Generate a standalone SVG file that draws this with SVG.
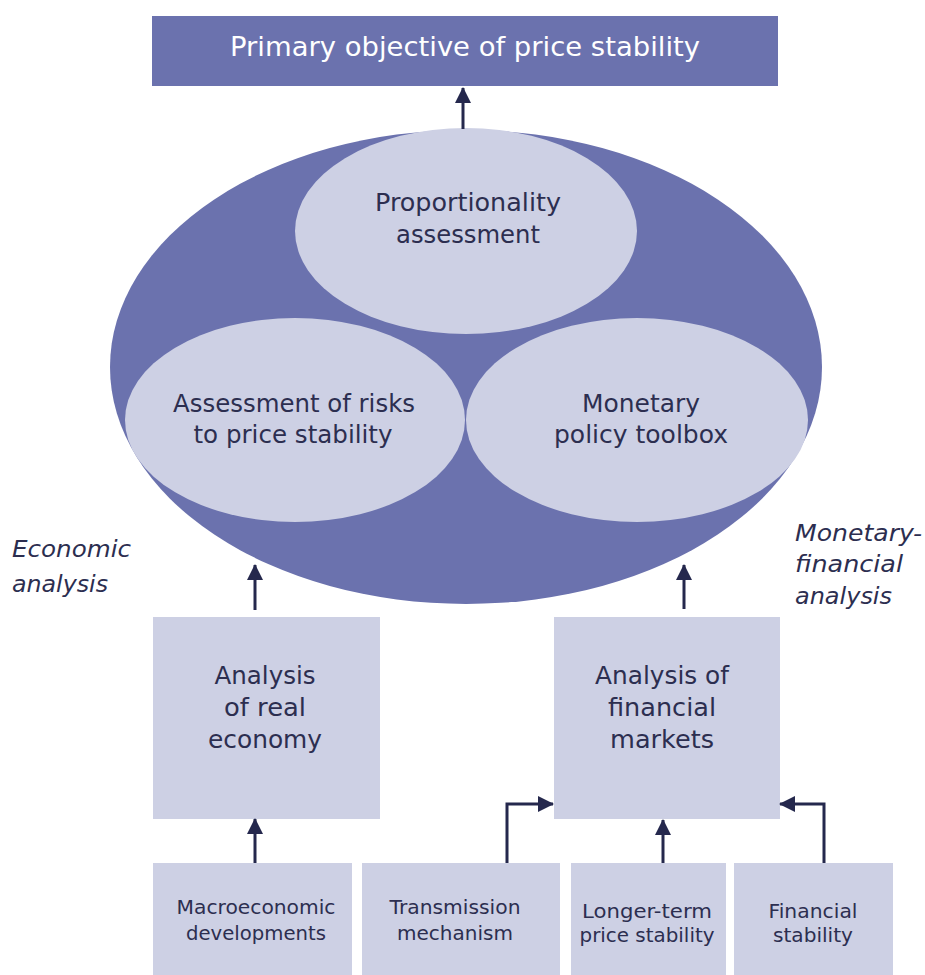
<svg xmlns="http://www.w3.org/2000/svg" width="925" height="975" viewBox="0 0 925 975">
  <style>
    .dark { fill: #6b72ae; }
    .light { fill: #cdd0e4; }
    .t { font-family: "DejaVu Sans", "Liberation Sans", sans-serif; fill: #2c2e50; text-anchor: middle; }
    .big { font-size: 24px; }
    .small { font-size: 19px; }
    .side { font-family: "DejaVu Sans", "Liberation Sans", sans-serif; fill: #2c2e50; font-size: 23px; font-style: italic; }
    .title { font-family: "DejaVu Sans", "Liberation Sans", sans-serif; fill: #ffffff; font-size: 27px; text-anchor: middle; }
    .conn { fill: none; stroke: #25284d; stroke-width: 3; }
  </style>
  <defs>
    <marker id="head" markerUnits="userSpaceOnUse" markerWidth="16" markerHeight="16" viewBox="0 0 16 16" refX="15" refY="8" orient="auto">
      <path d="M0,0 L16,8 L0,16 Z" fill="#25284d"/>
    </marker>
  </defs>

  <rect width="925" height="975" fill="#ffffff"/>

  <!-- top objective -->
  <g id="objective">
    <rect class="dark" x="152" y="16" width="626" height="70"/>
    <text class="title" x="465" y="56" textLength="470" lengthAdjust="spacingAndGlyphs">Primary objective of price stability</text>
  </g>

  <!-- large ellipse holding the three assessment areas -->
  <g id="framework">
    <ellipse class="dark" cx="466" cy="367" rx="356" ry="237"/>
  </g>
  <g id="proportionality">
    <ellipse class="light" cx="466" cy="231" rx="171" ry="103"/>
    <text class="t big" x="468" y="211" textLength="186" lengthAdjust="spacingAndGlyphs">Proportionality</text>
    <text class="t big" x="468" y="243" textLength="144" lengthAdjust="spacingAndGlyphs">assessment</text>
  </g>
  <g id="risks">
    <ellipse class="light" cx="295" cy="420" rx="170" ry="102"/>
    <text class="t big" x="294" y="412" textLength="242" lengthAdjust="spacingAndGlyphs">Assessment of risks</text>
    <text class="t big" x="293" y="443" textLength="199" lengthAdjust="spacingAndGlyphs">to price stability</text>
  </g>
  <g id="toolbox">
    <ellipse class="light" cx="637" cy="420" rx="171" ry="102"/>
    <text class="t big" x="641" y="412" textLength="118" lengthAdjust="spacingAndGlyphs">Monetary</text>
    <text class="t big" x="641" y="443" textLength="174" lengthAdjust="spacingAndGlyphs">policy toolbox</text>
  </g>

  <!-- side labels -->
  <g id="economic-label">
    <text class="side" x="12" y="557" textLength="119" lengthAdjust="spacingAndGlyphs">Economic</text>
    <text class="side" x="12" y="592" textLength="96" lengthAdjust="spacingAndGlyphs">analysis</text>
  </g>
  <g id="monetary-label">
    <text class="side" x="795" y="541" textLength="127" lengthAdjust="spacingAndGlyphs">Monetary-</text>
    <text class="side" x="795" y="572" textLength="108" lengthAdjust="spacingAndGlyphs">financial</text>
    <text class="side" x="795" y="604" textLength="97" lengthAdjust="spacingAndGlyphs">analysis</text>
  </g>

  <!-- analysis boxes -->
  <g id="real-economy">
    <rect class="light" x="153" y="617" width="227" height="202"/>
    <text class="t big" x="265" y="684" textLength="101" lengthAdjust="spacingAndGlyphs">Analysis</text>
    <text class="t big" x="265" y="716" textLength="82" lengthAdjust="spacingAndGlyphs">of real</text>
    <text class="t big" x="265" y="748" textLength="114" lengthAdjust="spacingAndGlyphs">economy</text>
  </g>
  <g id="financial-markets">
    <rect class="light" x="554" y="617" width="226" height="202"/>
    <text class="t big" x="662" y="684" textLength="134" lengthAdjust="spacingAndGlyphs">Analysis of</text>
    <text class="t big" x="662" y="716" textLength="108" lengthAdjust="spacingAndGlyphs">financial</text>
    <text class="t big" x="662" y="748" textLength="104" lengthAdjust="spacingAndGlyphs">markets</text>
  </g>

  <!-- input boxes -->
  <g id="macro">
    <rect class="light" x="153" y="863" width="199" height="112"/>
    <text class="t small" x="256" y="914" textLength="159" lengthAdjust="spacingAndGlyphs">Macroeconomic</text>
    <text class="t small" x="256" y="940" textLength="140" lengthAdjust="spacingAndGlyphs">developments</text>
  </g>
  <g id="transmission">
    <rect class="light" x="362" y="863" width="198" height="112"/>
    <text class="t small" x="455" y="914" textLength="131" lengthAdjust="spacingAndGlyphs">Transmission</text>
    <text class="t small" x="455" y="940" textLength="116" lengthAdjust="spacingAndGlyphs">mechanism</text>
  </g>
  <g id="longer-term">
    <rect class="light" x="571" y="863" width="155" height="112"/>
    <text class="t small" x="647" y="918" textLength="130" lengthAdjust="spacingAndGlyphs">Longer-term</text>
    <text class="t small" x="647" y="942" textLength="135" lengthAdjust="spacingAndGlyphs">price stability</text>
  </g>
  <g id="financial-stability">
    <rect class="light" x="734" y="863" width="159" height="112"/>
    <text class="t small" x="813" y="918" textLength="89" lengthAdjust="spacingAndGlyphs">Financial</text>
    <text class="t small" x="813" y="942" textLength="80" lengthAdjust="spacingAndGlyphs">stability</text>
  </g>

  <!-- connectors -->
  <g id="connectors">
    <path class="conn" d="M463,129 L463,88" marker-end="url(#head)"/>
    <path class="conn" d="M255,610 L255,565" marker-end="url(#head)"/>
    <path class="conn" d="M684,609 L684,565" marker-end="url(#head)"/>
    <path class="conn" d="M255,863 L255,819" marker-end="url(#head)"/>
    <path class="conn" d="M507,863 L507,804 L553,804" marker-end="url(#head)"/>
    <path class="conn" d="M663,863 L663,820" marker-end="url(#head)"/>
    <path class="conn" d="M824,863 L824,804 L780,804" marker-end="url(#head)"/>
  </g>
</svg>
